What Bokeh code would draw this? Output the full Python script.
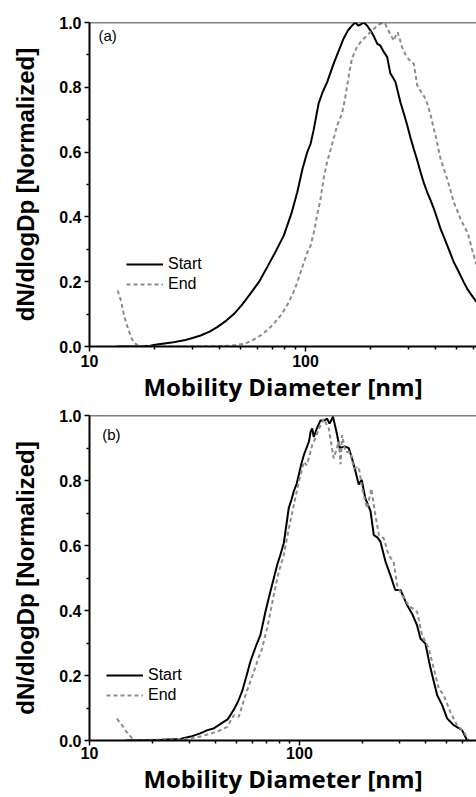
from bokeh.plotting import figure
from bokeh.models import (Range1d, FixedTicker, PrintfTickFormatter, Span,
                          Legend, LegendItem, Label)
from bokeh.layouts import column
from bokeh.embed import file_html
from bokeh.resources import INLINE

# ---------------- data ----------------
# Panel (a)
a_start_d = [13.5, 17.0, 19.1, 20.5, 24.0, 27.4, 30.0, 32.7, 36.0, 39.0, 43.0, 46.6, 51.0,
             55.6, 61.0, 66.5, 73.0, 79.4, 86.0, 91.6, 97.0, 101.9, 105.5, 109, 115, 120,
             126, 135, 142, 150, 157, 164, 170, 176, 181, 186, 193, 200, 208, 215, 222,
             230, 239, 247, 254, 261, 268, 275, 285, 296, 306, 317, 329, 341, 353, 366,
             380, 393, 407, 422, 437, 453, 470, 486, 504, 522, 541, 561, 585, 612, 625]
a_start_v = [0.0, 0.0, 0.002, 0.006, 0.012, 0.019, 0.026, 0.034, 0.046, 0.060, 0.08, 0.10,
             0.13, 0.163, 0.20, 0.245, 0.295, 0.343, 0.41, 0.476, 0.55, 0.60, 0.625, 0.667,
             0.75, 0.785, 0.816, 0.873, 0.91, 0.95, 0.975, 0.99, 1.0, 0.99, 0.995, 1.0,
             0.99, 0.975, 0.955, 0.934, 0.929, 0.91, 0.893, 0.843, 0.83, 0.816, 0.785,
             0.754, 0.72, 0.682, 0.645, 0.61, 0.575, 0.538, 0.505, 0.476, 0.45, 0.425,
             0.395, 0.363, 0.338, 0.312, 0.285, 0.26, 0.24, 0.219, 0.198, 0.178, 0.16,
             0.142, 0.135]
a_end_d = [13.5, 14.0, 14.4, 14.8, 15.2, 15.6, 16.0, 16.6, 17.2, 20, 30, 40, 46, 51.8, 56.5,
           61.9, 66.5, 71.3, 77, 82.2, 87, 91.6, 95, 98.3, 102, 105.5, 110, 113, 117, 122,
           126, 131, 136, 140, 144, 148, 152, 156, 160, 164, 168, 173, 180, 186, 196, 207,
           215, 222, 228, 234, 240, 247, 256, 262, 267, 273, 280, 288, 296, 306, 317, 323,
           329, 344, 360, 370, 380, 390, 400, 411, 422, 437, 453, 470, 486, 504, 522, 541,
           561, 575, 590, 605, 612, 625]
a_end_v = [0.173, 0.14, 0.10, 0.072, 0.049, 0.028, 0.013, 0.005, 0.001, 0.0, 0.0, 0.001,
           0.003, 0.008, 0.018, 0.034, 0.05, 0.07, 0.097, 0.127, 0.16, 0.198, 0.23, 0.26,
           0.29, 0.31, 0.36, 0.404, 0.45, 0.528, 0.57, 0.61, 0.65, 0.682, 0.70, 0.723,
           0.76, 0.806, 0.85, 0.888, 0.905, 0.924, 0.94, 0.95, 0.965, 0.98, 0.99, 0.996,
           0.998, 0.996, 0.98, 0.965, 0.944, 0.96, 0.97, 0.95, 0.924, 0.905, 0.893, 0.88,
           0.873, 0.84, 0.806, 0.785, 0.764, 0.74, 0.713, 0.68, 0.651, 0.615, 0.579,
           0.548, 0.517, 0.48, 0.445, 0.42, 0.394, 0.373, 0.353, 0.33, 0.30, 0.275, 0.26,
           0.25]

# Panel (b)
b_start_d = [14.8, 18, 22, 27.1, 30.3, 33.7, 36.5, 39, 42.8, 45.5, 48.7, 51, 53.3, 56, 58.4,
             62, 65.2, 68.9, 71.5, 74.1, 78.3, 81, 84.2, 86.5, 88.9, 91.5, 94, 97, 99.3,
             102, 105, 108, 111, 113, 115, 117, 121, 126, 131, 135.5, 139, 144.5, 150,
             155.5, 164, 171.6, 178, 185, 191.6, 198, 206, 218, 226, 235, 243, 257, 271,
             286, 303, 326, 344, 363, 377, 398, 421, 437, 453, 479, 505, 543, 595, 629, 640]
b_start_v = [0.0, 0.001, 0.002, 0.005, 0.012, 0.022, 0.032, 0.037, 0.054, 0.065, 0.095,
             0.12, 0.151, 0.20, 0.243, 0.29, 0.325, 0.397, 0.44, 0.479, 0.54, 0.57, 0.607,
             0.66, 0.715, 0.74, 0.767, 0.79, 0.818, 0.85, 0.879, 0.90, 0.92, 0.95, 0.96,
             0.934, 0.96, 0.985, 0.985, 0.99, 0.975, 0.996, 0.95, 0.90, 0.905, 0.90, 0.868,
             0.827, 0.788, 0.802, 0.745, 0.706, 0.632, 0.625, 0.612, 0.55, 0.509, 0.463,
             0.463, 0.416, 0.39, 0.355, 0.314, 0.298, 0.222, 0.18, 0.139, 0.108, 0.068,
             0.047, 0.032, 0.0, 0.0]
b_end_d = [13.5, 14.2, 14.8, 15.4, 16.0, 16.8, 20, 25, 30, 33.7, 37, 40.6, 45.3, 48.7, 51.4,
           55.3, 57.5, 60.6, 63.5, 66.3, 70.1, 72.5, 75.4, 79.7, 84.2, 88.9, 94, 99.3, 105,
           108, 111, 115, 119, 124, 130.6, 134, 138, 142, 145.6, 150, 153.9, 157, 159.6,
           165.5, 175, 181.5, 191.6, 199, 210, 220, 230, 239, 252, 266, 281, 292, 308, 331,
           363, 384, 413, 436, 461, 487, 523, 563, 606, 629, 640]
b_end_v = [0.067, 0.05, 0.032, 0.018, 0.006, 0.0, 0.002, 0.003, 0.006, 0.012, 0.02, 0.027,
           0.042, 0.078, 0.073, 0.139, 0.17, 0.211, 0.25, 0.283, 0.345, 0.39, 0.447, 0.519,
           0.57, 0.652, 0.724, 0.796, 0.858, 0.847, 0.87, 0.909, 0.93, 0.96, 0.99, 0.975,
           0.96, 0.91, 0.868, 0.895, 0.92, 0.85, 0.94, 0.888, 0.888, 0.837, 0.842, 0.775,
           0.714, 0.775, 0.693, 0.632, 0.622, 0.57, 0.55, 0.478, 0.447, 0.416, 0.396,
           0.324, 0.283, 0.222, 0.16, 0.139, 0.088, 0.047, 0.027, 0.008, 0.0]

x_major = [10, 100, 1000]
x_minor = [20, 30, 40, 50, 60, 70, 80, 90, 200, 300, 400, 500, 600, 700, 800, 900]
y_major = [0.0, 0.2, 0.4, 0.6, 0.8, 1.0]
y_minor = [0.1, 0.3, 0.5, 0.7, 0.9]
series_names = ["Start", "End"]
x_title = "Mobility Diameter [nm]"
y_title = "dN/dlogDp [Normalized]"

TICK_FONT = "Liberation Sans"


def style_axis(ax, title, title_font, label_fmt, ticks, minor, title_standoff, label_standoff):
    ax.ticker = FixedTicker(ticks=ticks, minor_ticks=minor)
    ax.formatter = PrintfTickFormatter(format=label_fmt)
    ax.axis_label = title
    ax.axis_label_text_font = title_font
    ax.axis_label_text_font_style = "bold"
    ax.axis_label_text_font_size = "24px"
    ax.axis_label_text_color = "black"
    ax.axis_label_standoff = title_standoff
    ax.major_label_text_font = TICK_FONT
    ax.major_label_text_font_style = "bold"
    ax.major_label_text_font_size = "16px"
    ax.major_label_text_color = "black"
    ax.major_label_standoff = label_standoff
    ax.axis_line_color = "black"
    ax.axis_line_width = 2
    ax.major_tick_line_color = "black"
    ax.minor_tick_line_color = "black"
    ax.major_tick_line_width = 1.5
    ax.minor_tick_line_width = 1.5
    ax.major_tick_out = 5
    ax.major_tick_in = 0
    ax.minor_tick_out = 3
    ax.minor_tick_in = 0


def make_panel(sd, sv, ed, ev, xmax, tag, tag_x, tag_y, leg_loc, height, btop, bbot, xlab_so):
    p = figure(width=476, height=height, x_axis_type="log",
               x_range=Range1d(10, xmax), y_range=Range1d(0, 1.0),
               output_backend="svg", toolbar_location=None,
               min_border_left=89, min_border_right=0,
               min_border_top=btop, min_border_bottom=bbot)
    p.grid.visible = False
    p.outline_line_color = None
    p.background_fill_color = "white"

    r1 = p.line(sd, sv, line_color="black", line_width=2)
    r2 = p.line(ed, ev, line_color="#8c8c8c", line_width=2, line_dash="4 3")

    p.add_layout(Span(location=1.0, dimension="width", line_color="black", line_width=1.5))

    style_axis(p.xaxis[0], x_title, "Open Sans", "%d", x_major, x_minor, 0, xlab_so)
    style_axis(p.yaxis[0], y_title, TICK_FONT, "%.1f", y_major, y_minor, 17, 3)

    legend = Legend(items=[LegendItem(label=series_names[0], renderers=[r1]),
                           LegendItem(label=series_names[1], renderers=[r2])],
                    location=leg_loc)
    legend.border_line_color = None
    legend.background_fill_alpha = 0
    legend.padding = 0
    legend.margin = 0
    legend.spacing = 0
    legend.glyph_width = 37
    legend.glyph_height = 20
    legend.label_height = 20
    legend.label_standoff = 5
    legend.label_text_font = TICK_FONT
    legend.label_text_font_size = "16px"
    legend.label_text_color = "black"
    p.add_layout(legend)

    p.add_layout(Label(x=tag_x, y=tag_y, text=tag, text_baseline="top",
                       text_font=TICK_FONT, text_font_size="15px", text_color="black"))
    return p


p1 = make_panel(a_start_d, a_start_v, a_end_d, a_end_v, 619, "(a)", 11.0, 0.985,
                (37, 52), 405, 22, 59, 3)
p2 = make_panel(b_start_d, b_start_v, b_end_d, b_end_v, 697, "(b)", 11.5, 0.968,
                (17, 35), 392, 10, 57, 1)

layout = column(p1, p2)
open("out.html", "w").write(file_html(layout, INLINE))
